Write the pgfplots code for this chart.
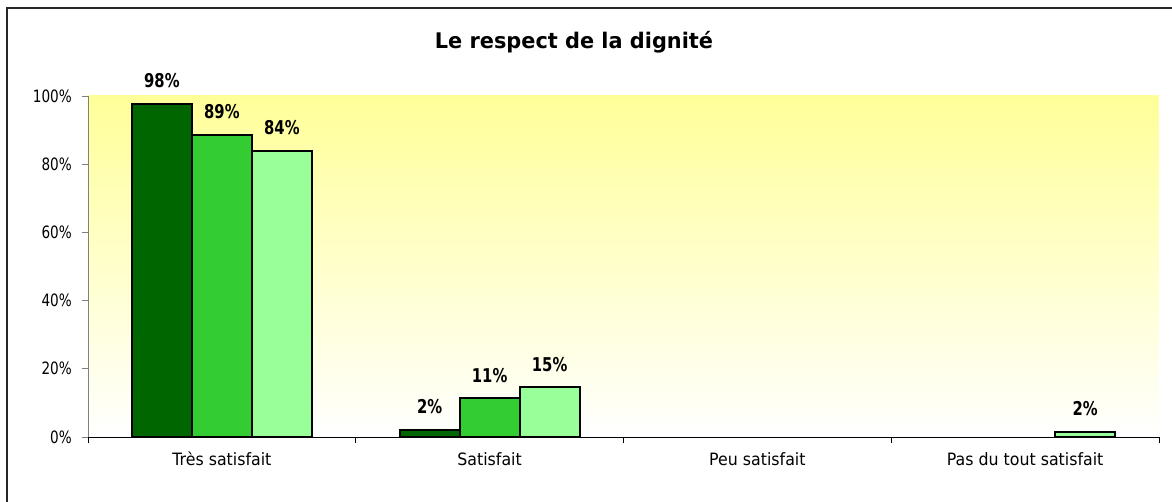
\documentclass[border=0pt]{standalone}
\usepackage{pgfplots}
\pgfplotsset{compat=1.18}
\usepackage{fontspec}
\setmainfont{DejaVu Sans}[FakeStretch=0.93]
\newfontfamily\titlefont{DejaVu Sans}[FakeStretch=0.97]
\newfontfamily\lblfont{DejaVu Sans}[FakeStretch=0.78]
\newfontfamily\yfont{DejaVu Sans}[FakeStretch=0.8]
\definecolor{dg}{HTML}{006600}
\definecolor{mg}{HTML}{33CC33}
\definecolor{lg}{HTML}{99FF99}
\definecolor{bgy}{HTML}{FFFF99}
\begin{document}
\begin{tikzpicture}
\begin{axis}[
  scale only axis, width=1071pt, height=341pt,
  at={(0pt,0pt)}, anchor=south west,
  xmin=-0.5, xmax=3.5, ymin=0, ymax=100,
  axis lines*=left,
  axis background/.style={top color=bgy, bottom color=white},
  ybar=0pt, bar width=60pt,
  /pgf/number format/assume math mode=true,
  xtick={-0.5,0.5,1.5,2.5,3.5},
  xticklabels={},
  extra x ticks={0,1,2,3},
  extra x tick labels={Très satisfait, Satisfait, Peu satisfait, Pas du tout satisfait},
  extra x tick style={major tick length=0pt},
  xticklabel style={font=\fontsize{17}{20}\selectfont, anchor=base, yshift=-28pt},
  x axis line style={draw=black, line width=0.8pt},
  x tick style={draw=black, line width=0.8pt},
  tick align=outside, major tick length=6pt,
  ytick={0,20,40,60,80,100},
  yticklabel={\pgfmathprintnumber{\tick}\%},
  yticklabel style={font=\yfont\fontsize{17}{20}\selectfont, anchor=east, inner sep=0pt, xshift=-10pt},
  y axis line style={draw=gray, line width=0.8pt},
  y tick style={draw=gray, line width=0.8pt},
  nodes near coords={\pgfmathprintnumber[fixed,precision=0]{\pgfplotspointmeta}\%},
  nodes near coords style={font=\lblfont\bfseries\fontsize{19}{19}\selectfont, anchor=base, inner sep=0pt, yshift=16pt},
  clip=false,
]
\addplot[fill=dg, draw=black, line width=2pt] coordinates {(0,97.8) (1,2.2)};
\addplot[fill=mg, draw=black, line width=2pt] coordinates {(0,88.6) (1,11.4)};
\addplot[fill=lg, draw=black, line width=2pt] coordinates {(0,83.9) (1,14.6) (3,1.6)};
\end{axis}
\path[use as bounding box] (-88pt,-64pt) rectangle (1084pt,437pt);
\draw[line width=1.2pt, black!85] (-81pt,-80pt) -- (-81pt,429pt) -- (1100pt,429pt);
\node[anchor=base, font=\titlefont\bfseries\fontsize{21.5}{25}\selectfont] at (486pt,388pt) {Le respect de la dignité};
\end{tikzpicture}
\end{document}
